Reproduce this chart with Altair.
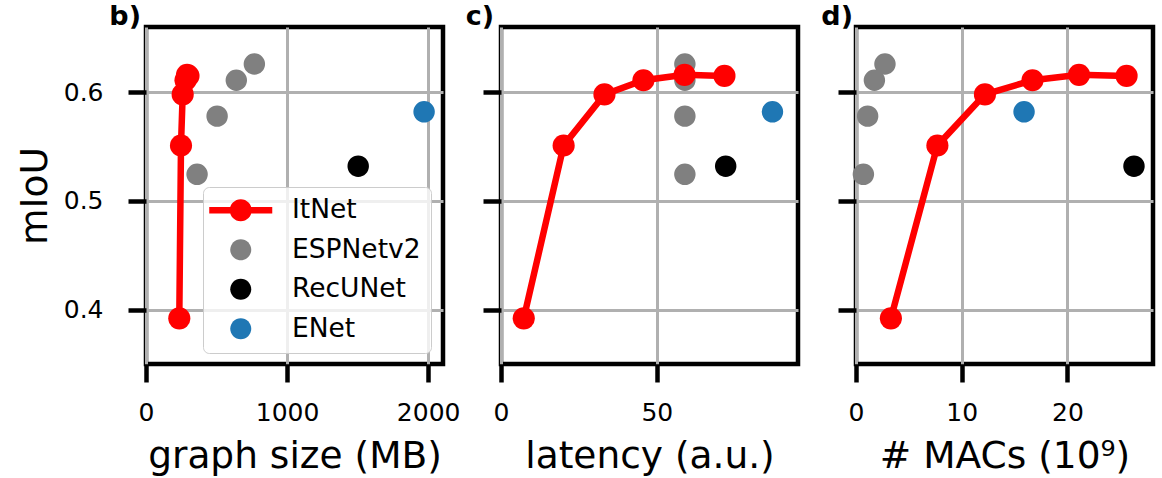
import altair as alt
import pandas as pd

# ---- data ----
models = ["ItNet", "ESPNetv2", "RecUNet", "ENet"]
colors = ["#ff0000", "#808080", "#000000", "#1f77b4"]

itnet_miou = [0.392, 0.551, 0.598, 0.611, 0.616, 0.615]
itnet_size = [236, 248, 260, 280, 291, 301]
itnet_latency = [7.3, 20.1, 33.2, 45.7, 58.9, 71.7]
itnet_macs = [3.3, 7.7, 12.2, 16.7, 21.1, 25.6]

esp_miou = [0.5245, 0.578, 0.611, 0.626]
esp_size = [362, 504, 640, 768]
esp_latency = [59.0, 59.0, 59.0, 59.0]
esp_macs = [0.70, 1.10, 1.74, 2.74]

rec_miou = [0.532]
rec_size = [1504]
rec_latency = [72.1]
rec_macs = [26.3]

enet_miou = [0.582]
enet_size = [1971]
enet_latency = [87.1]
enet_macs = [15.9]

rows = []
for name, mi, sz, la, ma in [
    ("ItNet", itnet_miou, itnet_size, itnet_latency, itnet_macs),
    ("ESPNetv2", esp_miou, esp_size, esp_latency, esp_macs),
    ("RecUNet", rec_miou, rec_size, rec_latency, rec_macs),
    ("ENet", enet_miou, enet_size, enet_latency, enet_macs),
]:
    for a, b, c, d in zip(mi, sz, la, ma):
        rows.append({"model": name, "miou": a, "size": b, "latency": c, "macs": d})
df = pd.DataFrame(rows)

FONT = "DejaVu Sans"
W, H = 297, 337
Y_DOMAIN = [0.35, 0.66]

# custom legend symbols; unit box = 22px (symbolSize 484)
line_sym = ("M-2.864,-0.295H2.864V0.295H-2.864Z "
            "M1,0A1,1 0 1,1 -1,0A1,1 0 1,1 1,0Z")
dot_sym = "M0.955,0A0.955,0.955 0 1,1 -0.955,0A0.955,0.955 0 1,1 0.955,0Z"


def panel(xfield, xdomain, xticks, xtitle, label, first, title_dx):
    base = alt.Chart(df)
    x = alt.X(f"{xfield}:Q", scale=alt.Scale(domain=xdomain, nice=False, zero=False),
              axis=alt.Axis(values=xticks, title=xtitle, format="d", labelFlush=False))
    if first:
        yaxis = alt.Axis(values=[0.4, 0.5, 0.6], format=".1f", title="mIoU",
                         labelPadding=25, titlePadding=9)
    else:
        yaxis = alt.Axis(values=[0.4, 0.5, 0.6], labels=False, title=None)
    y = alt.Y("miou:Q", scale=alt.Scale(domain=Y_DOMAIN, nice=False, zero=False), axis=yaxis)

    layers = []
    for m, col in zip(models[1:], colors[1:]):
        layers.append(
            base.transform_filter(alt.datum.model == m).mark_circle(
                size=460, opacity=1, color=col).encode(x=x, y=y))
    layers.append(
        base.transform_filter(alt.datum.model == "ItNet").mark_line(
            color="#ff0000", strokeWidth=6.5).encode(x=x, y=y))
    layers.append(
        base.transform_filter(alt.datum.model == "ItNet").mark_circle(
            size=490, opacity=1, color="#ff0000").encode(x=x, y=y))
    if first:
        leg = alt.Legend(
            title=None, orient="none", legendX=57, legendY=160,
            symbolSize=484, symbolStrokeWidth=0, symbolOffset=14.5,
            labelFontSize=26.5, labelFont=FONT, labelColor="black",
            labelOffset=38, padding=10, rowPadding=12.5,
            fillColor="rgba(255,255,255,0.8)",
            strokeColor="#cccccc", cornerRadius=6, symbolOpacity=1,
        )
        dummy = base.mark_point(filled=True, opacity=0).encode(
            x=x, y=y,
            color=alt.Color("model:N", scale=alt.Scale(domain=models, range=colors), legend=leg),
            shape=alt.Shape("model:N", scale=alt.Scale(domain=models,
                                                       range=[line_sym, dot_sym, dot_sym, dot_sym]),
                            legend=leg),
        )
        layers.insert(0, dummy)
    return alt.layer(*layers).properties(
        width=W, height=H,
        title=alt.TitleParams(text=label, anchor="start", align="right", dx=title_dx,
                              frame="group",
                              fontSize=27, fontWeight="bold", font=FONT, color="black",
                              baseline="alphabetic", offset=-25),
    )


b = panel("size", [0, 2105], [0, 1000, 2000], "graph size (MB)", "b)", True, -5)
c = panel("latency", [0, 95.3], [0, 50], "latency (a.u.)", "c)", False, -7)
d = panel("macs", [0, 28.1], [0, 10, 20], "# MACs (10⁹)", "d)", False, -3)

chart = alt.hconcat(b, c, d, spacing=58, bounds="flush").properties(
    padding={"left": 13, "top": 0, "right": 5, "bottom": 5},
    background="white",
).configure_view(stroke="black", strokeWidth=4.5).configure_axis(
    grid=True, gridColor="#b0b0b0", gridWidth=3, domain=False,
    tickSize=18, tickWidth=4.5, tickColor="black",
    labelFontSize=25, labelFont=FONT, labelColor="black", labelPadding=18,
    titleFontSize=37.5, titleFont=FONT, titleFontWeight="normal", titleColor="black",
    titlePadding=12,
)

chart.save("out.html", embed_options={"renderer": "svg", "actions": False})
